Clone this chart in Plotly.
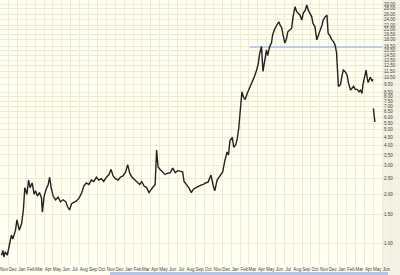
import plotly.graph_objects as go
import pandas as pd

# ---- data (daily bars approximated by weekly-ish closes) ----
dates = [
    "2004-11-06", "2004-11-11", "2004-11-14", "2004-11-19", "2004-11-26",
    "2004-12-02", "2004-12-10", "2004-12-15", "2004-12-20", "2004-12-24", "2004-12-29",
    "2005-01-06", "2005-01-14", "2005-01-20", "2005-01-25",
    "2005-02-01", "2005-02-07", "2005-02-12", "2005-02-19", "2005-02-26",
    "2005-03-03", "2005-03-09", "2005-03-16", "2005-03-23", "2005-03-26",
    "2005-04-01", "2005-04-08", "2005-04-15", "2005-04-20", "2005-04-25",
    "2005-05-02", "2005-05-10", "2005-05-19", "2005-05-27",
    "2005-06-05", "2005-06-14", "2005-06-20", "2005-06-27",
    "2005-07-04", "2005-07-13", "2005-07-21", "2005-07-30",
    "2005-08-08", "2005-08-15", "2005-08-23",
    "2005-09-01", "2005-09-10", "2005-09-18", "2005-09-27",
    "2005-10-05", "2005-10-14", "2005-10-22", "2005-10-31",
    "2005-11-09", "2005-11-16", "2005-11-23",
    "2005-12-01", "2005-12-10", "2005-12-18", "2005-12-27",
    "2006-01-05", "2006-01-12", "2006-01-19", "2006-01-27",
    "2006-02-05", "2006-02-14", "2006-02-22",
    "2006-03-01", "2006-03-09", "2006-03-18", "2006-03-26",
    "2006-04-03", "2006-04-10", "2006-04-16", "2006-04-21", "2006-04-26",
    "2006-05-03", "2006-05-12", "2006-05-20", "2006-05-29",
    "2006-06-07", "2006-06-15", "2006-06-24",
    "2006-07-02", "2006-07-11", "2006-07-19", "2006-07-24",
    "2006-08-01", "2006-08-09", "2006-08-18", "2006-08-25",
    "2006-09-03", "2006-09-11", "2006-09-20", "2006-09-28",
    "2006-10-05", "2006-10-14", "2006-10-24",
    "2006-11-01", "2006-11-06", "2006-11-14", "2006-11-24",
    "2006-12-03", "2006-12-11", "2006-12-18", "2006-12-23", "2006-12-28",
    "2007-01-05", "2007-01-10", "2007-01-17", "2007-01-22", "2007-01-27",
    "2007-02-01", "2007-02-07", "2007-02-12", "2007-02-18", "2007-02-25",
    "2007-03-06", "2007-03-16", "2007-03-23", "2007-03-29",
    "2007-04-03", "2007-04-09", "2007-04-15", "2007-04-20", "2007-04-26",
    "2007-05-02", "2007-05-06", "2007-05-13", "2007-05-19", "2007-05-23", "2007-05-30",
    "2007-06-06", "2007-06-13", "2007-06-19", "2007-06-23", "2007-06-27",
    "2007-07-04", "2007-07-10", "2007-07-14", "2007-07-21", "2007-07-27",
    "2007-08-01", "2007-08-08", "2007-08-13", "2007-08-18", "2007-08-25", "2007-08-31",
    "2007-09-05", "2007-09-12", "2007-09-17", "2007-09-22", "2007-09-29",
    "2007-10-04", "2007-10-08", "2007-10-15", "2007-10-21", "2007-10-26",
    "2007-11-02", "2007-11-08", "2007-11-12", "2007-11-19", "2007-11-25", "2007-11-29",
    "2007-12-06", "2007-12-12", "2007-12-18", "2007-12-23", "2007-12-28",
    "2008-01-03", "2008-01-10", "2008-01-16", "2008-01-20", "2008-01-27",
    "2008-02-02", "2008-02-07", "2008-02-14", "2008-02-24",
    "2008-03-01", "2008-03-07", "2008-03-14", "2008-03-19", "2008-03-24", "2008-03-27",
    "2008-04-04", "2008-04-07", "2008-04-11", "2008-04-14", "2008-04-21", "2008-04-28",
    "2008-04-30", "2008-05-01", "2008-05-02", "2008-05-05", "2008-05-07",
]
prices = [
    0.84, 0.90, 0.82, 0.88, 0.84,
    0.95, 1.12, 1.06, 1.15, 1.20, 1.39,
    1.20, 1.32, 1.60, 2.20,
    2.00, 2.45, 2.20, 2.35, 2.00,
    2.10, 1.95, 2.05, 1.90, 1.55,
    1.95, 2.15, 2.30, 2.55, 2.20,
    1.95, 1.85, 1.92, 1.80,
    1.85, 1.80, 1.68, 1.60,
    1.75, 1.78, 1.82, 1.90,
    2.05, 2.25, 2.35,
    2.30, 2.45, 2.40, 2.55,
    2.45, 2.50, 2.40, 2.55,
    2.65, 2.85, 2.60,
    2.50, 2.45, 2.55, 2.60,
    2.75, 3.05, 2.70, 2.55,
    2.45, 2.35, 2.30,
    2.40, 2.25, 2.20, 2.05,
    2.15, 2.22, 2.30, 3.75, 2.95,
    2.85, 2.75, 2.65, 2.70,
    2.72, 2.90, 2.72,
    2.80, 2.78, 2.75, 2.40,
    2.30, 2.20, 2.05, 2.15,
    2.20, 2.25, 2.28, 2.30,
    2.35, 2.38, 2.63,
    2.25, 2.10, 2.45, 2.60,
    2.75, 3.25, 3.65, 3.50, 4.30,
    4.50, 3.90, 4.05, 4.40, 5.10,
    6.80, 8.60, 8.00, 7.70, 8.40,
    9.10, 10.2, 10.8, 11.7,
    12.6, 14.9, 16.4, 11.5, 13.5,
    15.6, 14.4, 16.4, 17.2, 19.3, 21.0,
    22.2, 23.3, 22.0, 21.5, 19.6,
    17.2, 18.5, 20.2, 20.7, 21.3,
    25.0, 28.9, 27.0, 26.4, 25.6, 23.9,
    26.4, 27.5, 29.6, 27.5, 25.6,
    25.0, 22.8, 21.7, 18.0, 19.3,
    20.7, 22.2, 23.9, 25.0, 25.6, 19.8,
    19.0, 18.0, 17.5, 16.7, 14.9,
    9.3, 9.5, 10.9, 11.7, 11.4,
    10.9, 9.7, 8.8, 9.3,
    8.9, 8.9, 8.6, 8.8, 8.4, 9.5,
    10.9, 11.7, 10.4, 9.8, 10.6, 10.0,
    10.3, None, 6.8, 6.1, 5.6,
]

resistance_level = 16.3
resistance_dates = ["2007-03-06", "2008-06-01"]

y_ticks = [30, 28, 26, 24, 22, 21, 19.5, 18, 16.5, 15.5, 14.5, 13.5, 12.5, 11.5,
           10.5, 9.5, 8.5, 8, 7.5, 7, 6.5, 6, 5.5, 5, 4.5, 4, 3.5, 3, 2.5, 2, 1.5, 1]
y_tick_text = [f"{v:.2f}" for v in y_ticks]

month_starts = pd.date_range("2004-11-01", "2008-06-01", freq="MS")
month_mid = [d + pd.Timedelta(days=14) for d in month_starts]
month_text = [d.strftime("%b") for d in month_starts]

X_END = "2008-08-01"
BG = "#fffff2"
GRID = "#eeebd3"
BAND = "#f3f2e4"
FONT = dict(family="Liberation Sans, Arial, sans-serif", size=4.5, color="#444444")

fig = go.Figure()
fig.add_trace(go.Scatter(
    x=resistance_dates, y=[resistance_level, resistance_level],
    mode="lines", line=dict(color="#c3cbe3", width=2), hoverinfo="skip",
))
fig.add_trace(go.Scatter(
    x=dates, y=prices, mode="lines", connectgaps=False,
    line=dict(color="#222222", width=1.4),
))

fig.update_layout(
    width=400, height=275,
    margin=dict(l=0, r=0, t=0, b=10),
    paper_bgcolor=BG, plot_bgcolor=BG,
    showlegend=False,
    font=FONT,
    shapes=[
        # right-hand price-scale band inside the plot (covers gridlines)
        dict(type="rect", xref="x", yref="paper", x0=resistance_dates[1], x1=X_END,
             y0=0, y1=1, fillcolor=BAND, line=dict(width=0), layer="between"),
        # same band continued in the bottom margin
        dict(type="rect", xref="paper", yref="paper", x0=382 / 400, x1=1,
             y0=-10 / 265, y1=0, fillcolor=BAND, line=dict(width=0), layer="below"),
        # scrollbar strip at the bottom
        dict(type="rect", xref="paper", yref="paper", x0=0.275, x1=0.97,
             y0=-10 / 265, y1=-7 / 265, fillcolor="#b3c6ea", line=dict(width=0),
             layer="below"),
    ],
)
fig.update_xaxes(
    type="date",
    range=["2004-11-01", X_END],
    tickmode="array", tickvals=month_mid, ticktext=month_text,
    tickangle=0, ticklabeloverflow="allow",
    showgrid=False, ticks="", zeroline=False, showline=False,
    tickfont=FONT,
    minor=dict(dtick="M1", tick0="2004-11-01", showgrid=True, gridcolor=GRID,
               gridwidth=1, ticks=""),
)
fig.update_yaxes(
    type="log", range=[-0.136, 1.502], side="right",
    anchor="free", position=383 / 400,
    tickmode="array", tickvals=y_ticks, ticktext=y_tick_text,
    ticklabelposition="outside", ticks="",
    showgrid=True, gridcolor=GRID, gridwidth=1,
    zeroline=False, showline=False, tickfont=FONT,
)

fig.write_html("out.html")
